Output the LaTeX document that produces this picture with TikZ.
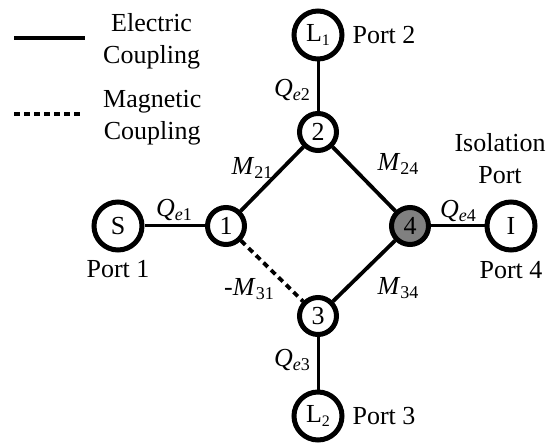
\documentclass[tikz,border=0pt]{standalone}
\usepackage{fontspec,amsmath}
\setmainfont{Liberation Serif}
\usetikzlibrary{positioning}
\definecolor{hl}{HTML}{808080}
\newcommand{\lb}{\fontsize{26}{32}\selectfont}
\newcommand{\Qe}[1]{\textit{Q}\raisebox{-0.15em}{\fontsize{18}{20}\selectfont\textit{e}#1}}
\newcommand{\Mm}[1]{\textit{M}\raisebox{-0.15em}{\fontsize{18}{20}\selectfont #1}}
\newcommand{\Ls}[1]{L\raisebox{-0.15em}{\fontsize{16}{18}\selectfont #1}}
\tikzset{
  res/.style={circle,draw,line width=5pt,fill=white,minimum size=37pt,inner sep=0pt,font=\lb},
  pt/.style={res,minimum size=48pt},
  txt/.style={inner sep=0pt,align=center,font=\lb},
  el/.style={line width=3.8pt},
  ql/.style={line width=3pt},
  mg/.style={line width=3.8pt,dash pattern=on 6pt off 4.5pt},
}
\begin{document}
\begin{tikzpicture}[node distance=92pt,on grid]
  \useasboundingbox (0,0) rectangle (553pt,444pt);
  % resonators
  \node[res] (r1) at (226pt,218pt) {1};
  \node[res, above right=94pt and 92pt of r1] (r2) {2};
  \node[res, below right=90pt and 92pt of r1] (r3) {3};
  \node[res, fill=hl, right=184pt of r1] (r4) {4};
  % ports
  \node[pt, left=108pt of r1] (ps) {S};
  \node[pt, right=101pt of r4] (pi) {I};
  \node[pt, above=97pt of r2] (pa) {\Ls{1}};
  \node[pt, below=100pt of r3] (pb) {\Ls{2}};
  % couplings
  \draw[ql] (ps) -- (r1);
  \draw[ql] (r4) -- (pi);
  \draw[ql] (pa) -- (r2);
  \draw[ql] (r3) -- (pb);
  \draw[el] (r1) -- (r2);
  \draw[el] (r2) -- (r4);
  \draw[el] (r3) -- (r4);
  \draw[mg] (r1) -- (r3);
  % labels
  \node[txt, above=16pt of r1, xshift=-52pt] (qa) {\Qe{1}};
  \node[txt, above=42pt of r2, xshift=-26pt] (qb) {\Qe{2}};
  \node[txt, below=44pt of r3, xshift=-26pt] (qc) {\Qe{3}};
  \node[txt, above=15pt of r4, xshift=48pt] (qd) {\Qe{4}};
  \node[txt, above=58pt of r1, xshift=26pt] (ma) {\Mm{21}};
  \node[txt, above=62pt of r4, xshift=-12pt] (mb) {\Mm{24}};
  \node[txt, below=62pt of r4, xshift=-12pt] (mc) {\Mm{34}};
  \node[txt, below=63pt of r1, xshift=23pt] (md) {-\Mm{31}};
  \node[txt, right=66pt of pa] (tb) {Port 2};
  \node[txt, below=43pt of ps] (ta) {Port 1};
  \node[txt, right=66pt of pb] (tc) {Port 3};
  \node[txt, below=44pt of pi] (td) {Port 4};
  \node[txt, above=67pt of pi, xshift=-11pt] (te) {Isolation\\Port};
  % legend
  \coordinate (la) at (14pt,406pt);
  \coordinate (lb) at (85pt,406pt);
  \coordinate (lc) at (14pt,330pt);
  \coordinate (ld) at (80pt,330pt);
  \draw[line width=4pt] (la) -- (lb);
  \draw[line width=3.8pt,dash pattern=on 6pt off 4pt] (lc) -- (ld);
  \node[txt, right=18pt of lb, yshift=-3.5pt] (tf) {Electric\\Coupling};
  \node[txt, right=23pt of ld, yshift=-3.5pt] (tg) {Magnetic\\Coupling};
\end{tikzpicture}
\end{document}
